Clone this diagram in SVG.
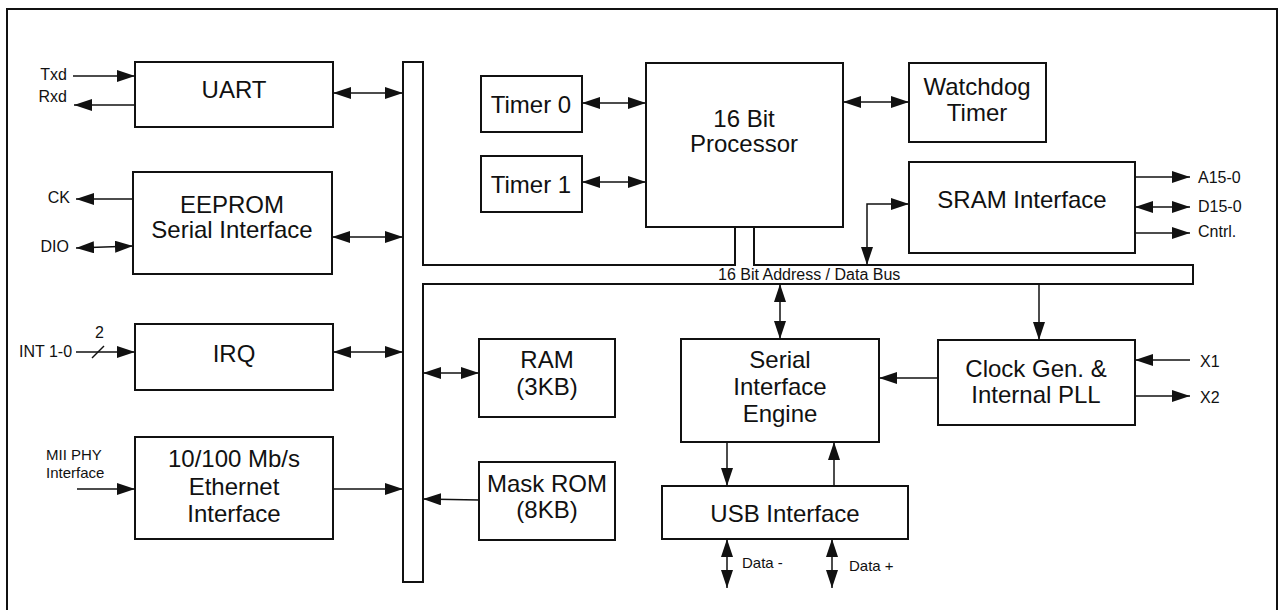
<svg xmlns="http://www.w3.org/2000/svg" width="1280" height="610" viewBox="0 0 1280 610">
<style>
.box{fill:#fff;stroke:#111;stroke-width:2}
.ln{fill:none;stroke:#111;stroke-width:1.5}
.bs{fill:none;stroke:#111;stroke-width:2}
.a1{marker-end:url(#ah)}
.a2{marker-end:url(#ah);marker-start:url(#ah)}
.t{font-family:"Liberation Sans",Arial,sans-serif;font-size:24px;fill:#111;text-anchor:middle}
.s{font-family:"Liberation Sans",Arial,sans-serif;font-size:16px;fill:#111}
.e{text-anchor:end}
</style>
<defs>
<marker id="ah" markerUnits="userSpaceOnUse" markerWidth="18" markerHeight="12" viewBox="0 0 18 12" refX="18" refY="6" orient="auto-start-reverse">
<path d="M0,0 L18,6 L0,12 z" fill="#111"/>
</marker>
</defs>
<rect x="7" y="9" width="1270" height="620" fill="#fff" stroke="#111" stroke-width="2"/>

<g id="bus">
<polyline class="bs" points="735,227 735,265 423,265 423,62 403,62 403,582 423,582 423,284 1193,284 1193,265 754,265 754,227"/>
<text class="s" x="718" y="280">16 Bit Address / Data Bus</text>
</g>

<g id="uart"><rect class="box" x="135" y="62" width="198" height="65"/><text class="t" x="234" y="98">UART</text></g>
<g id="eeprom"><rect class="box" x="133" y="172" width="199" height="102"/><text class="t" x="232" y="213">EEPROM</text><text class="t" x="232" y="238">Serial Interface</text></g>
<g id="irq"><rect class="box" x="135" y="324" width="198" height="66"/><text class="t" x="234" y="362">IRQ</text></g>
<g id="ethernet"><rect class="box" x="135" y="437" width="198" height="102"/><text class="t" x="234" y="467">10/100 Mb/s</text><text class="t" x="234" y="495">Ethernet</text><text class="t" x="234" y="522">Interface</text></g>
<g id="timer0"><rect class="box" x="481" y="76" width="101" height="56"/><text class="t" x="531" y="113">Timer 0</text></g>
<g id="timer1"><rect class="box" x="481" y="156" width="101" height="56"/><text class="t" x="531" y="193">Timer 1</text></g>
<g id="processor"><rect class="box" x="646" y="63" width="197" height="164"/><text class="t" x="744" y="127">16 Bit</text><text class="t" x="744" y="152">Processor</text></g>
<g id="watchdog"><rect class="box" x="909" y="63" width="137" height="79"/><text class="t" x="977" y="95">Watchdog</text><text class="t" x="977" y="121">Timer</text></g>
<g id="sram"><rect class="box" x="909" y="162" width="226" height="91"/><text class="t" x="1022" y="208">SRAM Interface</text></g>
<g id="ram"><rect class="box" x="479" y="339" width="136" height="78"/><text class="t" x="547" y="368">RAM</text><text class="t" x="547" y="395">(3KB)</text></g>
<g id="maskrom"><rect class="box" x="479" y="462" width="136" height="78"/><text class="t" x="547" y="492">Mask ROM</text><text class="t" x="547" y="518">(8KB)</text></g>
<g id="sie"><rect class="box" x="681" y="339" width="198" height="103"/><text class="t" x="780" y="368">Serial</text><text class="t" x="780" y="395">Interface</text><text class="t" x="780" y="422">Engine</text></g>
<g id="clockgen"><rect class="box" x="938" y="340" width="197" height="85"/><text class="t" x="1036" y="377">Clock Gen. &amp;</text><text class="t" x="1036" y="403">Internal PLL</text></g>
<g id="usb"><rect class="box" x="662" y="486" width="246" height="53"/><text class="t" x="785" y="522">USB Interface</text></g>

<g id="connectors">
<line class="ln a1" x1="73" y1="76" x2="135" y2="76"/>
<line class="ln a1" x1="135" y1="105" x2="74" y2="105"/>
<line class="ln a1" x1="133" y1="199" x2="76" y2="199"/>
<line class="ln a2" x1="76" y1="248" x2="133" y2="246"/>
<line class="ln a1" x1="76" y1="352" x2="135" y2="352"/>
<line class="ln" x1="92" y1="358" x2="104" y2="346"/>
<line class="ln a1" x1="77" y1="489" x2="135" y2="489"/>
<line class="ln a2" x1="333" y1="93" x2="403" y2="93"/>
<line class="ln a2" x1="332" y1="237" x2="403" y2="237"/>
<line class="ln a2" x1="333" y1="352" x2="403" y2="352"/>
<line class="ln a1" x1="333" y1="489" x2="403" y2="489"/>
<line class="ln a2" x1="423" y1="373" x2="479" y2="373"/>
<line class="ln a1" x1="479" y1="500" x2="423" y2="499"/>
<line class="ln a2" x1="582" y1="103" x2="646" y2="103"/>
<line class="ln a2" x1="582" y1="182" x2="646" y2="182"/>
<line class="ln a2" x1="843" y1="102" x2="909" y2="102"/>
<polyline class="ln a2" points="867,265 867,204 909,204"/>
<line class="ln a1" x1="1135" y1="177" x2="1190" y2="177"/>
<line class="ln a2" x1="1135" y1="207" x2="1190" y2="207"/>
<line class="ln a1" x1="1135" y1="233" x2="1190" y2="233"/>
<line class="ln a2" x1="780" y1="284" x2="780" y2="339"/>
<line class="ln a1" x1="1039" y1="284" x2="1039" y2="340"/>
<line class="ln a1" x1="938" y1="378" x2="879" y2="378"/>
<line class="ln a1" x1="1190" y1="360" x2="1135" y2="360"/>
<line class="ln a1" x1="1135" y1="396" x2="1190" y2="396"/>
<line class="ln a1" x1="727" y1="442" x2="727" y2="486"/>
<line class="ln a1" x1="834" y1="486" x2="834" y2="442"/>
<line class="ln a2" x1="727" y1="539" x2="727" y2="588"/>
<line class="ln a2" x1="832" y1="539" x2="832" y2="588"/>
</g>

<g id="labels">
<text class="s e" x="67" y="80">Txd</text>
<text class="s e" x="67" y="102">Rxd</text>
<text class="s e" x="70" y="203">CK</text>
<text class="s e" x="69" y="252">DIO</text>
<text class="s" x="19" y="357">INT 1-0</text>
<text class="s" x="95" y="338">2</text>
<text class="s" x="46" y="460" style="font-size:15px">MII PHY</text>
<text class="s" x="46" y="478" style="font-size:15px">Interface</text>
<text class="s" x="1198" y="183">A15-0</text>
<text class="s" x="1198" y="212">D15-0</text>
<text class="s" x="1198" y="237">Cntrl.</text>
<text class="s" x="1200" y="367">X1</text>
<text class="s" x="1200" y="403">X2</text>
<text class="s" x="742" y="568" style="font-size:15px">Data -</text>
<text class="s" x="849" y="571" style="font-size:15px">Data +</text>
</g>
</svg>
